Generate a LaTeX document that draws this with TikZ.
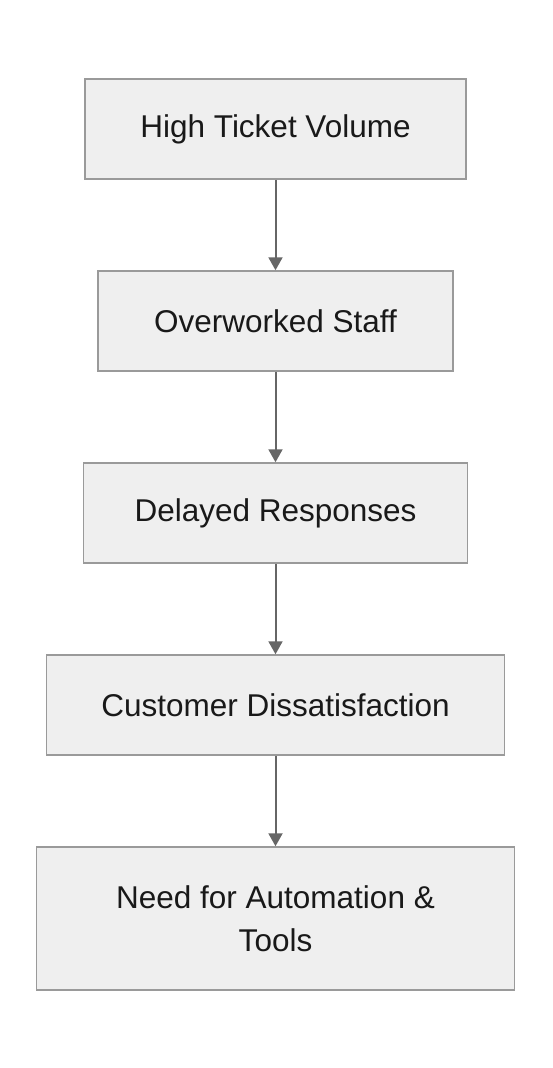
\documentclass[tikz,border=0pt]{standalone}
\usepackage{fontspec}
\setmainfont{Liberation Sans}
\usetikzlibrary{positioning,arrows.meta}
\definecolor{boxfill}{HTML}{EFEFEF}
\definecolor{boxline}{HTML}{9A9A9A}
\definecolor{linkgray}{HTML}{666666}

\begin{document}
\begin{tikzpicture}[
    , box/.style = {rectangle,draw=boxline,fill=boxfill,line width=1.5pt,minimum height=100pt,inner sep=0pt,align=center,font=\fontsize{31.5}{43}\selectfont,text=black!90}
    , link/.style = {draw=linkgray,line width=2pt,-{Triangle[width=14pt,length=13pt]}}
    , node distance = 90.5pt
]
\useasboundingbox[fill=white] (0,0) rectangle (552pt,-1068pt);
\node[box,minimum width=381pt] (b1) at (275.5pt,-129pt) {High Ticket Volume};
\node[box,minimum width=355pt,below=of b1] (b2) {Overworked Staff};
\node[box,minimum width=384pt,below=of b2] (b3) {Delayed Responses};
\node[box,minimum width=458pt,below=of b3] (b4) {Customer Dissatisfaction};
\node[box,minimum width=478pt,minimum height=143pt,below=of b4] (b5) {Need for Automation \&\\Tools};
\foreach \i [count=\j from 2] in {1,...,4}
    \draw[link] (b\i) -- (b\j);
\end{tikzpicture}
\end{document}
